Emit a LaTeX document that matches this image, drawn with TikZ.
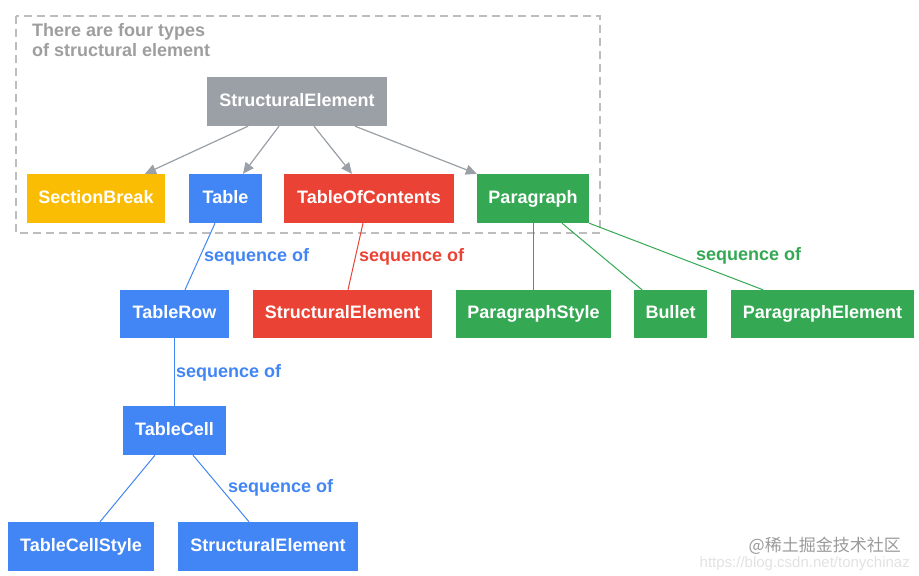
\documentclass[tikz,border=0pt]{standalone}
\usepackage{fontspec}
\setmainfont{Liberation Sans}
\newfontfamily\cjkfont{Noto Sans CJK SC}
\usetikzlibrary{arrows.meta,positioning}
\definecolor{gbox}{HTML}{9AA0A6}
\definecolor{gyel}{HTML}{FBBC04}
\definecolor{gblue}{HTML}{4285F4}
\definecolor{gred}{HTML}{EA4335}
\definecolor{ggreen}{HTML}{34A853}
\definecolor{dashc}{HTML}{BDBDBD}
\definecolor{hdrc}{HTML}{9E9E9E}
\definecolor{wm}{HTML}{9A9A9A}
\definecolor{wmurl}{HTML}{E2E2E2}
\tikzset{
  box/.style={rectangle, inner sep=0pt, text=white, font=\fontsize{18}{20}\selectfont\bfseries,
    text height=13pt, text depth=4pt},
  lbl/.style={inner sep=0pt, anchor=west, font=\fontsize{18}{20}\selectfont\bfseries,
    text height=13pt, text depth=4pt},
  arr/.style={draw=gbox, line width=1.2pt, -{Triangle[length=11pt,width=10pt]}},
  link/.style={line width=1pt},
}
\begin{document}
\begin{tikzpicture}[x=1pt,y=-1pt]
\useasboundingbox (0,0) rectangle (919,576);
% group frame
\draw[dashc, line width=1.5pt, dash pattern=on 8pt off 5pt] (16,16) rectangle (600,233);
\node[inner sep=0pt, anchor=north west, align=left, text=hdrc,
  font=\fontsize{18}{20}\selectfont\bfseries] (hdr) at (32,23.5)
  {There are four types\\of structural element};
% nodes
\node[box, fill=gbox, minimum width=180pt, minimum height=49pt] (se) at (297,101.5) {StructuralElement};
\node[box, fill=gyel, minimum width=138pt, minimum height=49pt] (sb) at (96,198.5) {SectionBreak};
\node[box, fill=gblue, minimum width=73pt, minimum height=49pt] (tab) at (225.5,198.5) {Table};
\node[box, fill=gred, minimum width=170pt, minimum height=49pt] (toc) at (369,198.5) {TableOfContents};
\node[box, fill=ggreen, minimum width=112pt, minimum height=49pt] (par) at (533,198.5) {Paragraph};
\node[box, fill=gblue, minimum width=109pt, minimum height=48pt] (trow) at (174.5,314) {TableRow};
\node[box, fill=gred, minimum width=179pt, minimum height=48pt] (se2) at (342.5,314) {StructuralElement};
\node[box, fill=ggreen, minimum width=155pt, minimum height=48pt] (pstyle) at (533.5,314) {ParagraphStyle};
\node[box, fill=ggreen, minimum width=73pt, minimum height=48pt] (bul) at (670.5,314) {Bullet};
\node[box, fill=ggreen, minimum width=183pt, minimum height=48pt] (pel) at (822.5,314) {ParagraphElement};
\node[box, fill=gblue, minimum width=103pt, minimum height=49pt] (tcell) at (174.5,430.5) {TableCell};
\node[box, fill=gblue, minimum width=146pt, minimum height=49pt] (tcs) at (81,546.5) {TableCellStyle};
\node[box, fill=gblue, minimum width=180pt, minimum height=49pt] (se3) at (268,546.5) {StructuralElement};
% arrows from StructuralElement
\draw[arr] ([xshift=-49pt]se.south) -- ([xshift=49pt]sb.north);
\draw[arr] ([xshift=-18pt]se.south) -- ([xshift=17.5pt]tab.north);
\draw[arr] ([xshift=17pt]se.south) -- ([xshift=-17pt]toc.north);
\draw[arr] ([xshift=58pt]se.south) -- (par.north west);
% links
\draw[link, gblue] ([xshift=-10.5pt]tab.south) -- ([xshift=10.5pt]trow.north);
\draw[link, gred] ([xshift=-6pt]toc.south) -- ([xshift=5.5pt]se2.north);
\draw[link, gblue] (trow.south) -- (tcell.north);
\draw[link, ggreen] (par.south) -- (par.south |- pstyle.north);
\draw[link, ggreen] ([xshift=29pt]par.south) -- ([xshift=-28.5pt]bul.north);
\draw[link, ggreen] (par.south east) -- ([xshift=-59.5pt]pel.north);
\draw[link, gblue] ([xshift=-19.5pt]tcell.south) -- ([xshift=19pt]tcs.north);
\draw[link, gblue] ([xshift=18.5pt]tcell.south) -- ([xshift=-19pt]se3.north);
% labels
\node[lbl, text=gblue] (l1) at (204,257) {sequence of};
\node[lbl, text=gred] (l2) at (359,257) {sequence of};
\node[lbl, text=gblue] (l3) at (176,373) {sequence of};
\node[lbl, text=ggreen] (l4) at (696,256) {sequence of};
\node[lbl, text=gblue] (l5) at (228,488) {sequence of};
% watermark
\node[inner sep=0pt, anchor=east, text=wmurl, font=\fontsize{15}{17}\selectfont] (wmu) at (910,564) {https://blog.csdn.net/tonychinaz};
\node[inner sep=0pt, anchor=east, text=wm, font=\cjkfont\fontsize{17}{19}\selectfont] (wmc) at (901,546) {@稀土掘金技术社区};
\end{tikzpicture}
\end{document}
